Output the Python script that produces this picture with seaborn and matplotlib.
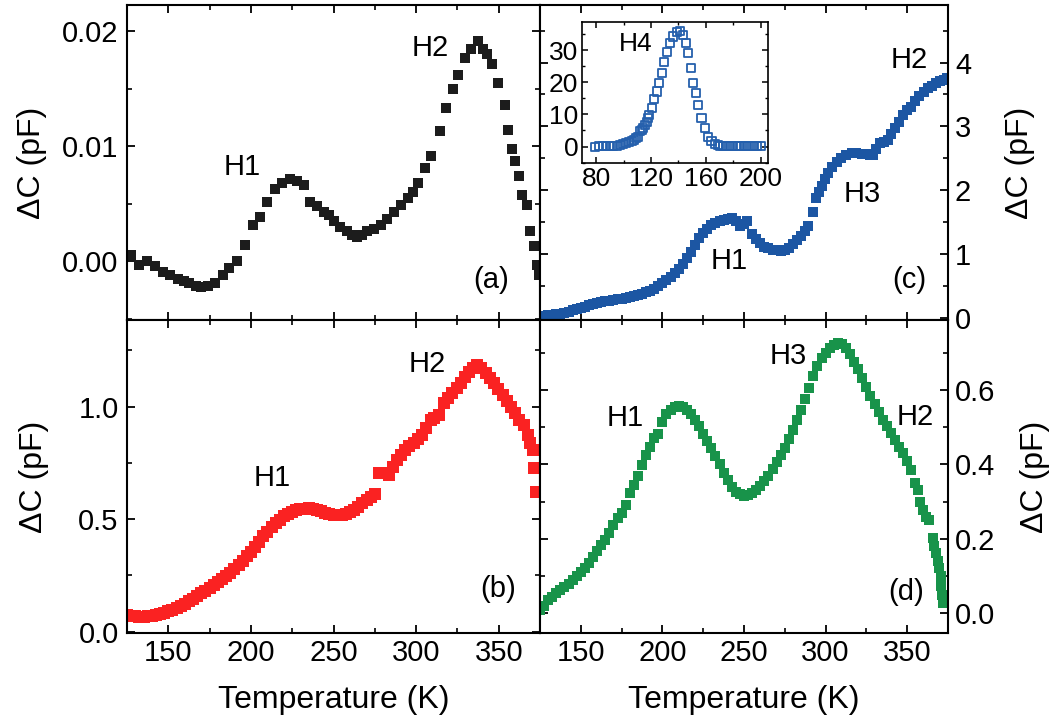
import matplotlib
matplotlib.use("Agg")
import matplotlib.pyplot as plt
import seaborn as sns
from matplotlib.ticker import MultipleLocator, FormatStrFormatter

# panel (a)
temp_a = [127.2, 132.3, 137.4, 142.0, 146.5, 151.0, 155.7, 159.5, 162.8, 166.5, 170.0, 174.0, 178.0,
          183.0, 187.0, 191.3, 196.3, 201.4, 205.5, 209.6, 214.6, 219.0, 223.8, 228.0, 231.9, 236.0,
          240.0, 244.1, 247.0, 250.2, 254.0, 258.4, 261.5, 264.5, 267.5, 270.5, 274.5, 278.7, 282.5,
          286.8, 291.0, 294.9, 298.0, 301.0, 305.1, 309.1, 314.2, 318.3, 322.4, 325.4, 329.5, 333.5,
          337.2, 340.7, 343.0, 345.7, 349.8, 353.9, 355.9, 357.9, 360.0, 362.0, 364.0, 367.1, 369.1,
          371.2, 373.2, 374.2]
dc_a = [0.00055, -0.0003, 0.0, -0.0004, -0.0009, -0.0012, -0.0015, -0.0017, -0.0019, -0.0021, -0.0022,
        -0.0021, -0.0019, -0.0012, -0.0006, 0.0, 0.0014, 0.0032, 0.0039, 0.0052, 0.0063, 0.0068, 0.0072,
        0.0070, 0.0066, 0.0052, 0.0048, 0.0043, 0.0040, 0.0035, 0.0030, 0.0026, 0.0023, 0.0021, 0.0023,
        0.0026, 0.0028, 0.0032, 0.0037, 0.0043, 0.0049, 0.0055, 0.0060, 0.0068, 0.0081, 0.0092, 0.0113,
        0.0133, 0.0150, 0.0162, 0.0177, 0.0185, 0.0192, 0.0185, 0.0180, 0.0172, 0.0155, 0.0136, 0.0114,
        0.0098, 0.0087, 0.0074, 0.0058, 0.0049, 0.0026, 0.0013, -0.0003, -0.0012]

# panel (b)
temp_b = [125, 127.5, 130, 132.5, 135, 137.5, 140, 142.5, 145, 147.5, 150, 152.5, 155, 157.5, 160,
          162.5, 165, 167.5, 170, 172.5, 175, 177.5, 180, 182.5, 185, 187.5, 190, 192.5, 195, 197.5,
          200, 202.5, 205, 207.5, 210, 212.5, 215, 217.5, 220, 222.5, 225, 227.5, 230, 232.5, 235,
          237.5, 240, 242.5, 245, 247.5, 250, 252.5, 255, 257.5, 260, 262.5, 265, 267.5, 270, 272.5,
          275, 277.3, 280.0, 283.4, 286.0, 288.5, 291.0, 293.5, 296.0, 298.6, 301.0, 303.7, 306.0,
          308.8, 311.0, 313.8, 316.9, 319.5, 322.0, 324.5, 327.0, 329.5, 332.1, 334.5, 336.8, 339.5,
          342.3, 344.8, 347.3, 349.8, 352.4, 355.0, 357.5, 360.0, 362.5, 365.6, 367.7, 369.2, 370.7,
          371.5, 372.7]
dc_b = [0.075, 0.070, 0.068, 0.067, 0.067, 0.068, 0.070, 0.074, 0.078, 0.084, 0.090, 0.097, 0.105,
        0.114, 0.124, 0.134, 0.146, 0.158, 0.170, 0.182, 0.194, 0.206, 0.219, 0.232, 0.247, 0.262,
        0.278, 0.295, 0.315, 0.335, 0.355, 0.377, 0.400, 0.423, 0.445, 0.465, 0.482, 0.498, 0.512,
        0.524, 0.533, 0.540, 0.545, 0.547, 0.548, 0.545, 0.540, 0.534, 0.528, 0.523, 0.519, 0.517,
        0.518, 0.522, 0.530, 0.542, 0.556, 0.570, 0.585, 0.598, 0.610, 0.704, 0.705, 0.696, 0.730,
        0.763, 0.785, 0.808, 0.825, 0.837, 0.855, 0.874, 0.905, 0.941, 0.950, 0.963, 1.015, 1.040,
        1.060, 1.085, 1.104, 1.130, 1.156, 1.172, 1.185, 1.170, 1.148, 1.127, 1.104, 1.078, 1.052,
        1.027, 1.000, 0.970, 0.941, 0.919, 0.874, 0.840, 0.808, 0.726, 0.622]

# panel (c)
temp_c = [125, 127.5, 130, 132.5, 135, 137.5, 140, 142.5, 145, 147.5, 150, 152.5, 155, 157.5, 160,
          162.5, 165, 167.5, 170, 172.5, 175, 177.5, 180, 182.5, 185, 187.5, 190, 192.5, 195, 197.5,
          200, 202.5, 205, 207.5, 210, 212.5, 215, 217.5, 220, 222.5, 225, 227.5, 230, 232.5, 235,
          237.5, 240, 242.5, 245, 247.5, 250, 252, 255, 257.5, 260, 262.5, 265, 267.5, 270, 272.5,
          275, 277.5, 280, 282.5, 285, 287.5, 289.5, 292, 294.2, 296, 297.6, 299.5, 301.6, 304, 306.7,
          309.5, 312.8, 316, 318.9, 322, 325, 327, 329, 331, 333.1, 335.5, 338.2, 340, 342.3, 345,
          347.3, 350, 352.4, 355, 357.5, 360, 362.5, 365, 367.6, 370, 372.7, 374.5]
dc_c = [0.03, 0.04, 0.05, 0.055, 0.06, 0.07, 0.085, 0.10, 0.12, 0.14, 0.16, 0.18, 0.20, 0.22, 0.235,
        0.25, 0.26, 0.27, 0.285, 0.295, 0.305, 0.315, 0.325, 0.34, 0.355, 0.375, 0.405, 0.43, 0.46,
        0.50, 0.545, 0.595, 0.65, 0.71, 0.77, 0.84, 0.94, 1.04, 1.15, 1.25, 1.33, 1.40, 1.45, 1.49,
        1.52, 1.54, 1.55, 1.56, 1.52, 1.44, 1.48, 1.52, 1.32, 1.24, 1.17, 1.12, 1.09, 1.07, 1.06,
        1.05, 1.06, 1.10, 1.16, 1.22, 1.29, 1.36, 1.44, 1.66, 1.88, 1.97, 2.06, 2.17, 2.27, 2.36,
        2.45, 2.51, 2.56, 2.58, 2.58, 2.57, 2.57, 2.56, 2.55, 2.65, 2.74, 2.76, 2.79, 2.88, 2.97,
        3.07, 3.18, 3.25, 3.31, 3.39, 3.47, 3.54, 3.60, 3.64, 3.68, 3.71, 3.73, 3.75]

# panel (d)
temp_d = [125, 127.5, 130, 132.5, 135, 137.5, 140, 142.5, 145, 147.5, 150, 152.5, 155, 157.5, 160,
          162.5, 165, 167.5, 170, 172.5, 175, 177.5, 180, 182.5, 185, 187.5, 190, 192.5, 195, 197.5,
          200, 202.5, 205, 207.5, 210, 212.5, 215, 217.5, 220, 222.5, 225, 227.5, 230, 232.5, 235,
          237.5, 240, 242.5, 245, 247.5, 250, 252.5, 255, 257.5, 260, 262.5, 265, 267.5, 270, 272.5,
          275, 277.5, 280, 282.5, 285, 287.5, 290, 292.5, 295, 297.5, 300, 302.5, 305, 307.5, 310,
          312.5, 315, 317.5, 320, 322.5, 325, 327.5, 330, 332.5, 335, 337.5, 340, 342.5, 345, 347.5,
          350, 352.5, 355, 356.5, 358, 359.5, 361.5, 363.6, 365.6, 366.7, 367.7, 369, 369.7, 370.5,
          370.7, 371.2, 371.7]
dc_d = [0.010, 0.020, 0.035, 0.045, 0.055, 0.062, 0.070, 0.078, 0.090, 0.100, 0.110, 0.122, 0.136,
        0.152, 0.168, 0.183, 0.198, 0.215, 0.238, 0.255, 0.270, 0.290, 0.323, 0.345, 0.368, 0.398,
        0.425, 0.448, 0.470, 0.483, 0.515, 0.535, 0.546, 0.553, 0.556, 0.554, 0.547, 0.535, 0.520,
        0.502, 0.482, 0.462, 0.443, 0.422, 0.400, 0.378, 0.358, 0.340, 0.327, 0.320, 0.316, 0.317,
        0.322, 0.330, 0.342, 0.355, 0.370, 0.388, 0.407, 0.425, 0.445, 0.468, 0.492, 0.518, 0.545,
        0.577, 0.605, 0.638, 0.665, 0.685, 0.700, 0.712, 0.720, 0.725, 0.724, 0.712, 0.697, 0.676,
        0.655, 0.632, 0.607, 0.585, 0.562, 0.540, 0.520, 0.502, 0.485, 0.465, 0.447, 0.430, 0.410,
        0.385, 0.350, 0.331, 0.300, 0.278, 0.260, 0.251, 0.202, 0.180, 0.161, 0.140, 0.121, 0.100,
        0.072, 0.050, 0.027]

# inset of (c)
temp_in = [79.3, 82, 84.8, 87.5, 90.2, 92.5, 95, 97.5, 99.9, 102, 104.2, 106, 107.6, 109.2, 110.8,
           112, 113.2, 114.4, 115.7, 116.9, 117.9, 118.8, 120.5, 122.2, 124.1, 126.1, 127.8, 129.5,
           131.4, 133.8, 136.2, 138.7, 141.1, 143.5, 145.5, 147.1, 149.1, 150.8, 152.7, 154.4, 156.8,
           159.3, 161.7, 164.1, 166.5, 168.5, 170.2, 172.5, 175, 177.5, 180, 182.5, 185, 187.5, 190,
           192.5, 195, 197.5, 200]
dc_in = [0.0, 0.05, 0.05, 0.1, 0.1, 0.2, 0.3, 0.5, 0.8, 1.1, 1.4, 1.8, 2.1, 2.6, 3.1, 4.7, 5.2, 5.7,
         6.7, 7.7, 8.8, 9.8, 11.9, 14.8, 17.1, 19.7, 22.8, 26.4, 29.5, 32.1, 34.2, 35.7, 36.0, 34.7,
         32.1, 29.0, 24.4, 19.7, 16.6, 13.0, 8.8, 5.7, 3.1, 1.6, 0.8, 0.5, 0.3, 0.2, 0.1, 0.1, 0.1,
         0.1, 0.1, 0.1, 0.1, 0.1, 0.1, 0.1, 0.1]

sns.set_theme(style="ticks")
plt.rcParams['font.family'] = ['Liberation Sans', 'DejaVu Sans']
plt.rcParams['axes.linewidth'] = 1.5
plt.rcParams['axes.edgecolor'] = 'black'
plt.rcParams['axes.labelcolor'] = 'black'
plt.rcParams['text.color'] = 'black'
plt.rcParams['xtick.color'] = 'black'
plt.rcParams['ytick.color'] = 'black'
plt.rcParams['xtick.labelcolor'] = 'black'
plt.rcParams['ytick.labelcolor'] = 'black'

W, H = 1054, 725
fig = plt.figure(figsize=(W / 100, H / 100), dpi=100)
xl, xm, xr = 127 / W, 540 / W, 948 / W
yt, ym, yb = 1 - 5 / H, 1 - 320 / H, 1 - 633 / H
ax_a = fig.add_axes([xl, ym, xm - xl, yt - ym])
ax_c = fig.add_axes([xm, ym, xr - xm, yt - ym])
ax_b = fig.add_axes([xl, yb, xm - xl, ym - yb])
ax_d = fig.add_axes([xm, yb, xr - xm, ym - yb])

sns.scatterplot(x=temp_a, y=dc_a, ax=ax_a, marker='s', s=58, color='#1c1c1c', linewidth=0, legend=False)
sns.scatterplot(x=temp_b, y=dc_b, ax=ax_b, marker='s', s=66, color='#fa2222', linewidth=0, legend=False)
sns.scatterplot(x=temp_c, y=dc_c, ax=ax_c, marker='s', s=62, color='#1c56a3', linewidth=0, legend=False)
sns.scatterplot(x=temp_d, y=dc_d, ax=ax_d, marker='s', s=60, color='#18934a', linewidth=0, legend=False)


def style(ax, ylim, ymaj, ymin, fmt, side, xlabels):
    ax.set_xlim(125, 375)
    ax.set_ylim(*ylim)
    ax.xaxis.set_major_locator(MultipleLocator(50))
    ax.xaxis.set_minor_locator(MultipleLocator(25))
    ax.yaxis.set_major_locator(MultipleLocator(ymaj))
    ax.yaxis.set_minor_locator(MultipleLocator(ymin))
    ax.yaxis.set_major_formatter(FormatStrFormatter(fmt))
    if side == 'right':
        ax.yaxis.tick_right()
        ax.yaxis.set_label_position('right')
    ax.tick_params(which='both', direction='in', top=True, bottom=True, left=True, right=True,
                   labelbottom=xlabels, labeltop=False,
                   labelleft=(side == 'left'), labelright=(side == 'right'),
                   labelsize=21, colors='black')
    ax.tick_params(which='major', length=6, width=1.3)
    ax.tick_params(which='minor', length=3.5, width=1.2)
    ax.tick_params(axis='y', pad=6 if side == 'left' else 5)
    ax.tick_params(axis='x', pad=4)
    ax.set_ylabel('ΔC (pF)', fontsize=23, color='black')
    if xlabels:
        ax.set_xlabel('Temperature (K)', fontsize=23, color='black')
        ax.xaxis.set_label_coords(0.5, -0.165)


style(ax_a, (-0.0051, 0.0223), 0.01, 0.005, '%.2f', 'left', False)
style(ax_b, (-0.006, 1.385), 0.5, 0.25, '%.1f', 'left', True)
style(ax_c, (-0.03, 4.9), 1, 0.5, '%d', 'right', False)
style(ax_d, (-0.053, 0.788), 0.2, 0.1, '%.1f', 'right', True)
ax_a.yaxis.set_label_coords(-0.194, 0.5)
ax_b.yaxis.set_label_coords(-0.188, 0.5)
ax_c.yaxis.set_label_coords(1.14, 0.5)
ax_d.yaxis.set_label_coords(1.176, 0.5)

fs = 21
for ax, items in [
    (ax_a, [('H1', 194.9, 0.0082), ('H2', 308.8, 0.0186), ('(a)', 345.2, -0.00165)]),
    (ax_b, [('H1', 212.6, 0.683), ('H2', 306.9, 1.19), ('(b)', 349.6, 0.19)]),
    (ax_c, [('H2', 351.4, 4.04), ('H3', 322.7, 1.94), ('H1', 241.2, 0.89), ('(c)', 351.4, 0.6)]),
    (ax_d, [('H1', 177.2, 0.525), ('H3', 277.0, 0.692), ('H2', 355.0, 0.528), ('(d)', 349.5, 0.057)]),
]:
    for txt, tx, ty in items:
        ax.text(tx, ty, txt, fontsize=fs, ha='center', va='center', color='black')

# inset
ix0, ix1 = 582.3 / W, 767.7 / W
iy0, iy1 = 1 - 163.3 / H, 1 - 21.7 / H
ax_in = fig.add_axes([ix0, iy0, ix1 - ix0, iy1 - iy0])
sns.scatterplot(x=temp_in, y=dc_in, ax=ax_in, marker='s', s=34, facecolor='none',
                edgecolor='#2560ad', linewidth=1.3, legend=False)
ax_in.set_xlim(70, 205)
ax_in.set_ylim(-5.2, 38.8)
ax_in.xaxis.set_major_locator(MultipleLocator(40))
ax_in.xaxis.set_minor_locator(MultipleLocator(20))
ax_in.yaxis.set_major_locator(MultipleLocator(10))
ax_in.yaxis.set_minor_locator(MultipleLocator(5))
for sp in ax_in.spines.values():
    sp.set_linewidth(1.2)
ax_in.tick_params(which='both', direction='in', top=True, right=True, labelsize=19, pad=3, colors='black')
ax_in.tick_params(which='major', length=4.5, width=1.1)
ax_in.tick_params(which='minor', length=2.5, width=1.0)
ax_in.text(109.1, 31.9, 'H4', fontsize=19, ha='center', va='center', color='black')

fig.savefig('out.png', dpi=100)
